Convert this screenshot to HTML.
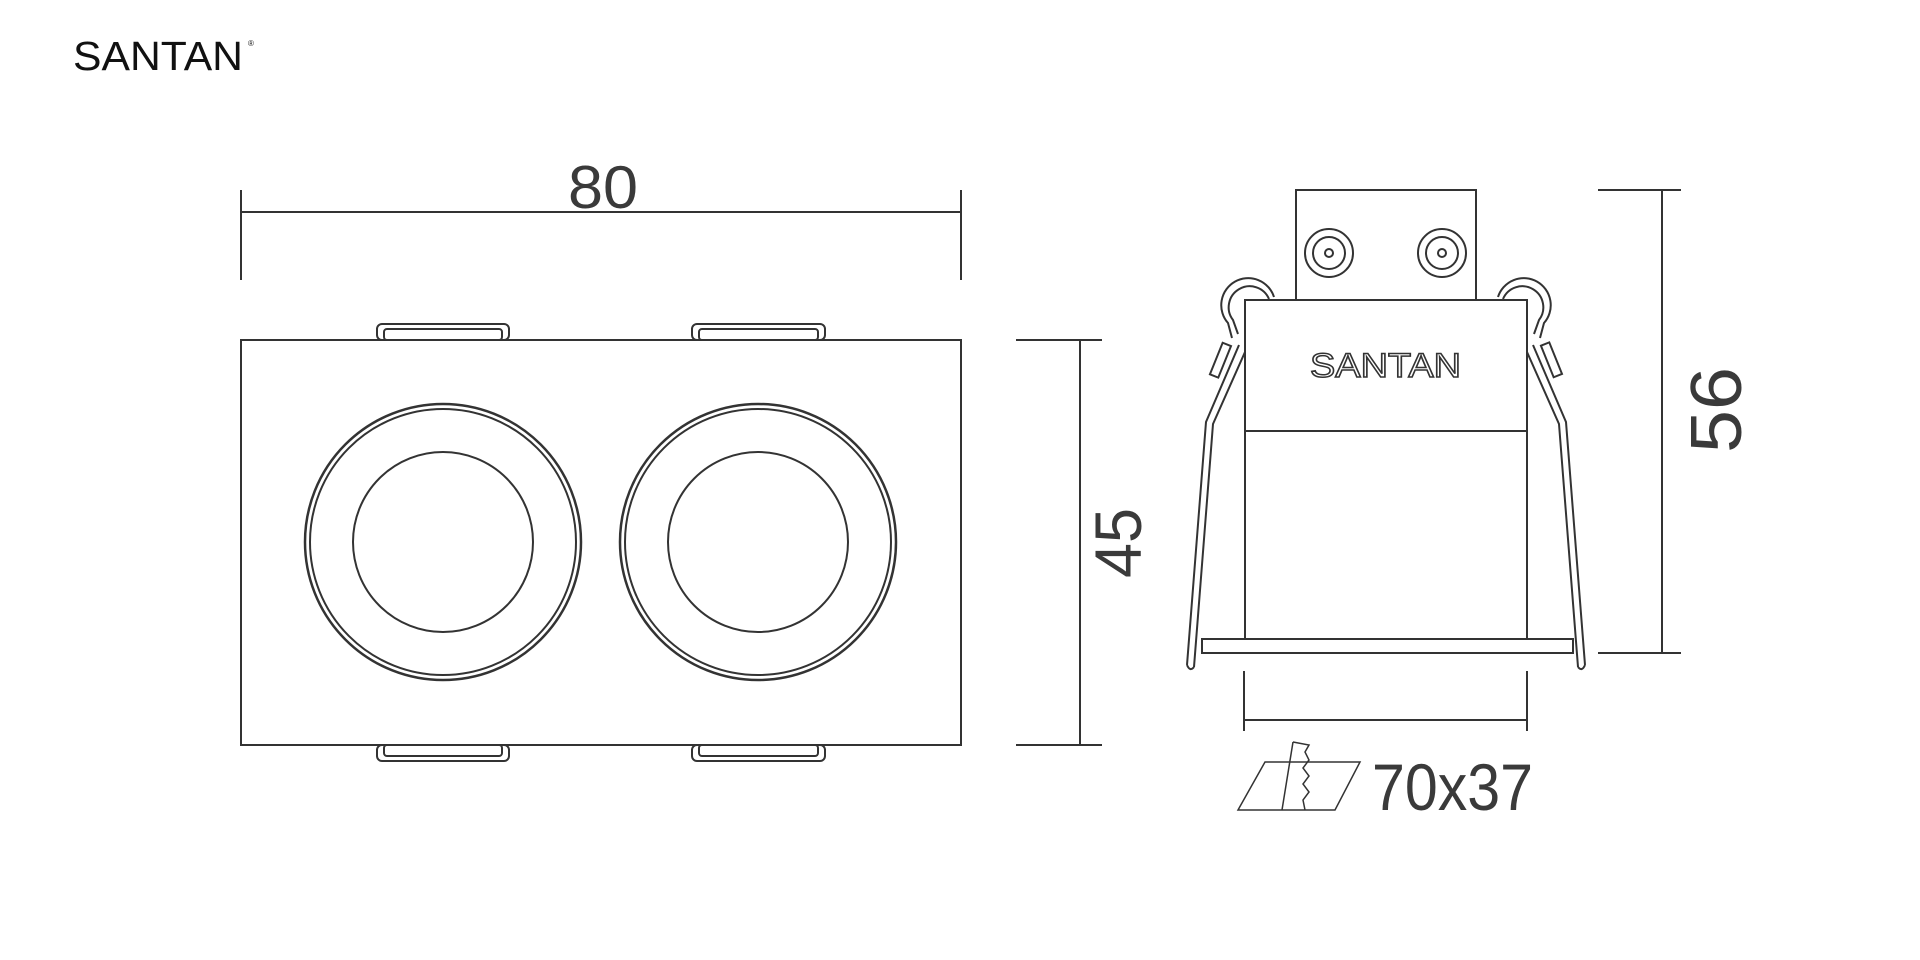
<!DOCTYPE html>
<html><head><meta charset="utf-8"><style>html,body{margin:0;padding:0;background:#fff;}svg{display:block}</style></head>
<body>
<svg width="1920" height="960" viewBox="0 0 1920 960" xmlns="http://www.w3.org/2000/svg" font-family="Liberation Sans, sans-serif">
<text x="73" y="70" font-size="41" textLength="170" lengthAdjust="spacingAndGlyphs" fill="#111">SANTAN</text>
<text x="248" y="46" font-size="8" fill="#111">®</text>
<g fill="none" stroke="#333" stroke-width="2">
<line x1="241" y1="212" x2="961" y2="212"/>
<line x1="241" y1="190" x2="241" y2="280"/>
<line x1="961" y1="190" x2="961" y2="280"/>
<rect x="241" y="340" width="720" height="405"/>
<rect x="377" y="324" width="132" height="16" rx="5"/>
<rect x="384" y="329" width="118" height="11" rx="3"/>
<rect x="692" y="324" width="133" height="16" rx="5"/>
<rect x="699" y="329" width="119" height="11" rx="3"/>
<rect x="377" y="745" width="132" height="16" rx="5"/>
<rect x="384" y="745" width="118" height="11" rx="3"/>
<rect x="692" y="745" width="133" height="16" rx="5"/>
<rect x="699" y="745" width="119" height="11" rx="3"/>
<circle cx="443" cy="542" r="138" stroke-width="2.5"/>
<circle cx="443" cy="542" r="133"/>
<circle cx="443" cy="542" r="90"/>
<circle cx="758" cy="542" r="138" stroke-width="2.5"/>
<circle cx="758" cy="542" r="133"/>
<circle cx="758" cy="542" r="90"/>
<line x1="1080" y1="340" x2="1080" y2="745"/>
<line x1="1016" y1="340" x2="1102" y2="340"/>
<line x1="1016" y1="745" x2="1102" y2="745"/>
<path d="M1296 300 V190 H1476 V300"/>
<rect x="1245" y="300" width="282" height="339" fill="#fff"/>
<line x1="1245" y1="431" x2="1527" y2="431"/>
<rect x="1202" y="639" width="371" height="14"/>
<circle cx="1329" cy="253" r="24"/><circle cx="1329" cy="253" r="16"/><circle cx="1329" cy="253" r="4"/>
<circle cx="1442" cy="253" r="24"/><circle cx="1442" cy="253" r="16"/><circle cx="1442" cy="253" r="4"/>
<!-- left clip -->
<path d="M1187 665 L1206 422 L1239 345"/>
<path d="M1194 667 L1213 424 L1245 352"/>
<path d="M1187 665 Q1190 672 1194 667"/>
<path d="M1274 297 A27 27 0 1 0 1228 323 L1232 338"/>
<path d="M1269 299 A21 21 0 1 0 1233 320 L1238 334"/>
<rect x="1216" y="343" width="9" height="34" transform="rotate(22 1220 360)"/>
<!-- right clip -->
<path d="M1585 665 L1566 422 L1533 345"/>
<path d="M1578 667 L1559 424 L1527 352"/>
<path d="M1585 665 Q1582 672 1578 667"/>
<path d="M1498 297 A27 27 0 1 1 1544 323 L1540 338"/>
<path d="M1503 299 A21 21 0 1 1 1539 320 L1534 334"/>
<rect x="1547" y="343" width="9" height="34" transform="rotate(-22 1551 360)"/>
<line x1="1662" y1="190" x2="1662" y2="653"/>
<line x1="1598" y1="190" x2="1681" y2="190"/>
<line x1="1598" y1="653" x2="1681" y2="653"/>
<line x1="1244" y1="720" x2="1527" y2="720"/>
<line x1="1244" y1="671" x2="1244" y2="731"/>
<line x1="1527" y1="671" x2="1527" y2="731"/>
<path d="M1265 762 H1360 L1335 810 H1238 Z" stroke-width="1.5"/>
<path d="M1293 742 L1282 810" stroke-width="1.5"/>
<path d="M1293 742 L1309 745 L1305 752 L1309 760 L1303 768 L1309 776 L1303 784 L1309 792 L1303 800 L1305 810" stroke-width="1.5"/>
</g>
<g fill="none" stroke="#333" stroke-width="2">
<line x1="1245" y1="300" x2="1527" y2="300"/>
</g>
<text x="1310" y="377" font-size="34" textLength="151" lengthAdjust="spacingAndGlyphs" fill="#fff" stroke="#333" stroke-width="1.5">SANTAN</text>
<g fill="#3a3a3a">
<text x="568" y="208" font-size="60" textLength="70" lengthAdjust="spacingAndGlyphs">80</text>
<text transform="translate(1141 578) rotate(-90)" font-size="66" textLength="70" lengthAdjust="spacingAndGlyphs">45</text>
<text transform="translate(1741 453) rotate(-90)" font-size="72" textLength="86" lengthAdjust="spacingAndGlyphs">56</text>
<text x="1372" y="810" font-size="66" textLength="161" lengthAdjust="spacingAndGlyphs">70x37</text>
</g>
</svg>
</body></html>
